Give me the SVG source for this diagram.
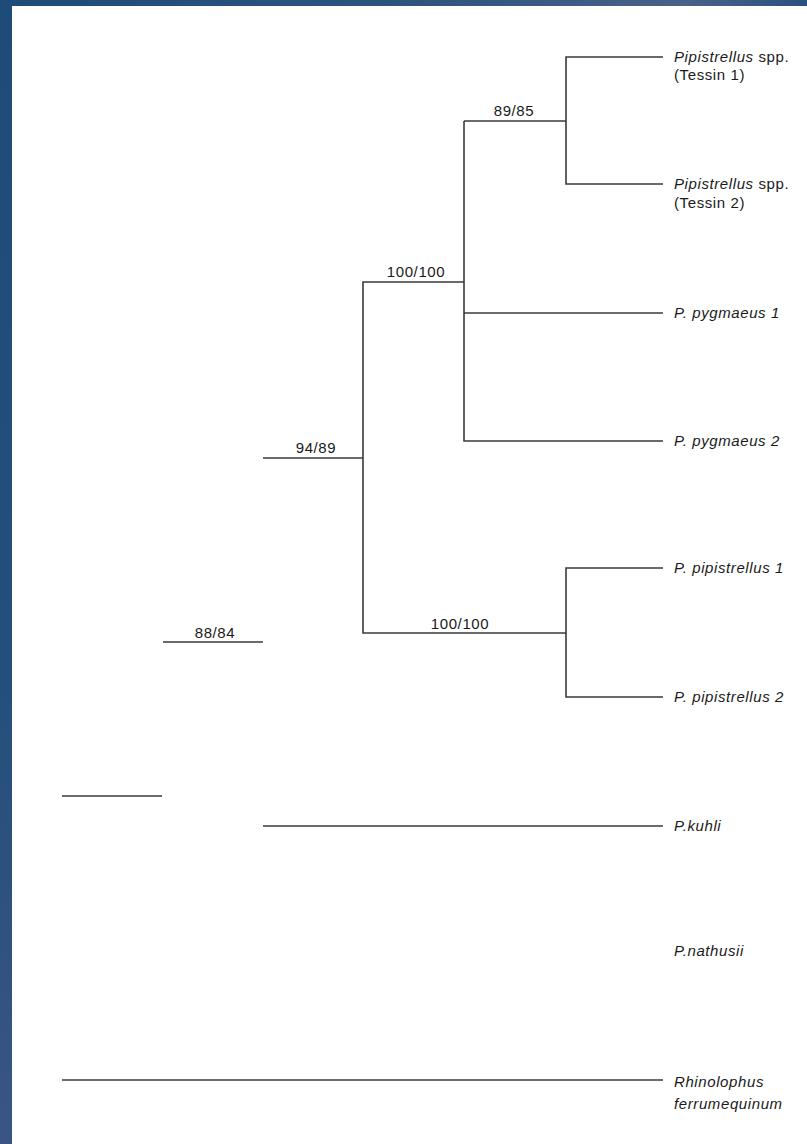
<svg xmlns="http://www.w3.org/2000/svg" width="807" height="1144" viewBox="0 0 807 1144">
  <defs>
    <linearGradient id="bgv" x1="0" y1="0" x2="0" y2="1">
      <stop offset="0" stop-color="#1e4b78"/>
      <stop offset="0.6" stop-color="#244f7c"/>
      <stop offset="1" stop-color="#3a5584"/>
    </linearGradient>
    <linearGradient id="bgh" x1="0" y1="0" x2="1" y2="0">
      <stop offset="0" stop-color="#1e4b78"/>
      <stop offset="0.55" stop-color="#2f5580"/>
      <stop offset="0.85" stop-color="#4a6189"/>
      <stop offset="1" stop-color="#2a5080"/>
    </linearGradient>
  </defs>
  <style>
    .br { stroke: #3a3a3a; stroke-width: 1.6; fill: none; stroke-linecap: butt; }
    .tx { font-family: "Liberation Sans", Arial, sans-serif; font-size: 15px; fill: #1a1a1a; letter-spacing: 0.6px; }
    .it { font-style: italic; }
    .sup { font-family: "Liberation Sans", Arial, sans-serif; font-size: 15px; fill: #1a1a1a; letter-spacing: 0.6px; text-anchor: middle; }
  </style>
  <rect x="0" y="0" width="807" height="1144" fill="url(#bgv)"/>
  <rect x="0" y="0" width="807" height="6" fill="url(#bgh)"/>
  <rect x="12" y="6" width="795" height="1138" fill="#ffffff"/>

  <g id="connectors">
    <path class="br" d="M663,57 H566 V184 H663"/>
    <path class="br" d="M566,121 H464"/>
    <path class="br" d="M464,121 V441 H663"/>
    <path class="br" d="M464,313 H663"/>
    <path class="br" d="M464,282 H363 V633 H566"/>
    <path class="br" d="M363,458 H263"/>
    <path class="br" d="M663,568 H566 V697 H663"/>
    <path class="br" d="M163,642 H263"/>
    <path class="br" d="M62,796 H162"/>
    <path class="br" d="M263,826 H663"/>
    <path class="br" d="M62,1080 H663"/>
  </g>

  <g id="support-labels">
    <text class="sup" x="514" y="116">89/85</text>
    <text class="sup" x="416" y="277">100/100</text>
    <text class="sup" x="316" y="453">94/89</text>
    <text class="sup" x="460" y="629">100/100</text>
    <text class="sup" x="215" y="638">88/84</text>
  </g>

  <g id="node-tessin1">
    <text class="tx" x="674" y="62"><tspan class="it">Pipistrellus</tspan> spp.</text>
    <text class="tx" x="674" y="80">(Tessin 1)</text>
  </g>
  <g id="node-tessin2">
    <text class="tx" x="674" y="189"><tspan class="it">Pipistrellus</tspan> spp.</text>
    <text class="tx" x="674" y="208">(Tessin 2)</text>
  </g>
  <g id="node-pygmaeus1">
    <text class="tx it" x="674" y="318">P. pygmaeus 1</text>
  </g>
  <g id="node-pygmaeus2">
    <text class="tx it" x="674" y="446">P. pygmaeus 2</text>
  </g>
  <g id="node-pipistrellus1">
    <text class="tx it" x="674" y="573">P. pipistrellus 1</text>
  </g>
  <g id="node-pipistrellus2">
    <text class="tx it" x="674" y="702">P. pipistrellus 2</text>
  </g>
  <g id="node-kuhli">
    <text class="tx it" x="674" y="831">P.kuhli</text>
  </g>
  <g id="node-nathusii">
    <text class="tx it" x="674" y="956">P.nathusii</text>
  </g>
  <g id="node-rhinolophus">
    <text class="tx it" x="674" y="1087">Rhinolophus</text>
    <text class="tx it" x="674" y="1109">ferrumequinum</text>
  </g>
</svg>
